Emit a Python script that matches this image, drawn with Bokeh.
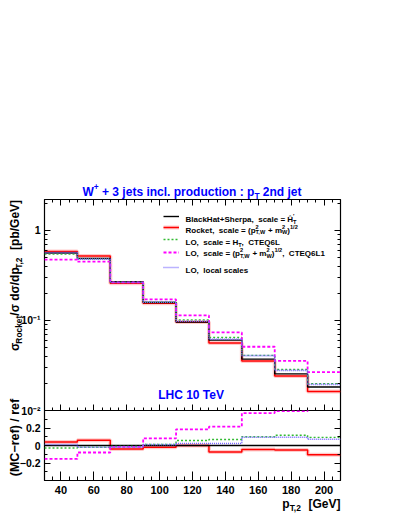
import math
import numpy as np
from bokeh.plotting import figure
from bokeh.models import (Range1d, FixedTicker, LinearAxis, LogAxis, Label,
                          Legend, LegendItem, CustomJSTickFormatter)
from bokeh.layouts import column
from bokeh.embed import file_html
from bokeh.resources import INLINE

# ---------------- data ----------------
bin_edges = [30, 50, 70, 90, 110, 130, 150, 170, 190, 210]
blackhat_sherpa = [0.560, 0.489, 0.269, 0.158, 0.0958, 0.0605, 0.0372, 0.0255, 0.0182]
rocket = [0.582, 0.518, 0.258, 0.155, 0.0958, 0.0560, 0.0355, 0.0242, 0.0163]
lo_ht_cteq6l = [0.544, 0.479, 0.266, 0.160, 0.1013, 0.0646, 0.0409, 0.0285, 0.0199]
lo_ptw_cteq6l1 = [0.474, 0.450, 0.265, 0.171, 0.1135, 0.0735, 0.0510, 0.0355, 0.0267]
lo_local = [0.566, 0.479, 0.264, 0.1595, 0.0980, 0.0619, 0.0407, 0.0279, 0.0195]

x_major_ticks = [40, 60, 80, 100, 120, 140, 160, 180, 200]
x_minor_ticks = list(range(30, 215, 5))
main_y_ticks = [0.01, 0.1, 1.0]
main_y_tick_labels = ["10\u207b\u00b2", "10\u207b\u00b9", "1"]
main_y_minor = [m * 10.0 ** e for e in (-2, -1, 0) for m in range(2, 10)]
ratio_y_ticks = [-0.2, 0.0, 0.2]
ratio_y_minor = [-0.4, -0.3, -0.1, 0.1, 0.3, 0.4]

# ---------------- layout (page pixels; the Bokeh page has no body margin) ----------------
FONT = "Liberation Sans"
W = 391
BL, BR = 44, 51
MAIN_TOP, MAIN_FH, MAIN_BOT = 199, 211, 12
RATIO_FH, RATIO_BOT = 70, 33
X0, X1 = 30, 210
MY0, MY1 = 0.01, 2.2
RY0, RY1 = -0.4, 0.4

FL = BL
MFB = MAIN_TOP + MAIN_FH
MAIN_H = MAIN_TOP + MAIN_FH + MAIN_BOT
RATIO_H = RATIO_FH + RATIO_BOT
TOTAL_H = MAIN_H - MAIN_BOT + RATIO_H

AW = {' ': 278, '\u00a0': 278, '!': 333, '(': 333, ')': 333, '+': 584, ',': 278, '-': 333,
      '.': 278, '/': 278, ':': 333, '=': 584, '[': 333, ']': 333, '\u2212': 584,
      '\u2032': 238, '\u03c3': 620, '\u0124': 722}
for c in '0123456789':
    AW[c] = 556
AW.update(dict(zip('ABCDEFGHIJKLMNOPQRSTUVWXYZ',
                   [722, 722, 722, 722, 667, 611, 778, 722, 278, 556, 722, 611, 833, 722, 778,
                    667, 778, 722, 667, 611, 722, 667, 944, 667, 667, 611])))
AW.update(dict(zip('abcdefghijklmnopqrstuvwxyz',
                   [556, 611, 556, 611, 556, 333, 611, 611, 278, 278, 556, 278, 889, 611, 611,
                    611, 611, 389, 556, 333, 611, 556, 778, 556, 556, 500])))


def tw(s, size):
    return sum(AW.get(ch, 600) for ch in s) * size / 1000.0


def pw(kind, t, size):
    if kind == 'n':
        return tw(t, size)
    if kind in ('sub', 'sup'):
        return tw(t, size * 0.7)
    return max(tw(t[0], size * 0.7), tw(t[1], size * 0.7))


def compose(fig, along, base, size, pieces, color, rotated=False, anchor='left'):
    """Place a run of text pieces (normal / sub / sup) on the page-pixel overlay."""
    total = sum(pw(k, t, size) for k, t in pieces)
    d = -1 if rotated else 1
    if anchor == 'center':
        along -= d * total / 2
    elif anchor == 'right':
        along -= d * total
    for kind, t in pieces:
        items = []
        if kind == 'n':
            items.append((t, base, size))
        elif kind == 'sub':
            items.append((t, base + 0.3 * size, 0.7 * size))
        elif kind == 'sup':
            items.append((t, base - 0.42 * size, 0.7 * size))
        else:
            items.append((t[0], base - 0.42 * size, 0.7 * size))
            items.append((t[1], base + 0.3 * size, 0.7 * size))
        for txt, perp, sz in items:
            px, py = (perp, along) if rotated else (along, perp)
            fig.add_layout(Label(x=px, y=py, text=txt.replace(' ', '\u00a0'),
                                 angle=(math.pi / 2 if rotated else 0),
                                 text_align='left', text_baseline='alphabetic',
                                 text_font=FONT, text_font_style='bold',
                                 text_font_size=f"{sz:.2f}px", text_color=color))
        along += d * pw(kind, t, size)


blank = CustomJSTickFormatter(code="return '';")
main_fmt = CustomJSTickFormatter(
    args=dict(vals=main_y_ticks, labs=main_y_tick_labels),
    code="for (let i = 0; i < vals.length; i++) { if (Math.abs(tick - vals[i]) < 1e-6 * vals[i]) return labs[i]; } return '';")


def style_axis(ax, major, minor, font_size=None, standoff=3):
    ax.major_tick_in = major
    ax.major_tick_out = 0
    ax.minor_tick_in = minor
    ax.minor_tick_out = 0
    ax.axis_line_color = None
    ax.major_tick_line_color = "black"
    ax.minor_tick_line_color = "black"
    ax.major_label_standoff = standoff
    ax.major_label_text_font = FONT
    ax.major_label_text_font_style = "bold"
    ax.major_label_text_color = "black"
    if font_size:
        ax.major_label_text_font_size = font_size


# ---------------- main panel ----------------
p = figure(width=W, height=MAIN_H,
           x_range=Range1d(X0, X1), y_range=Range1d(MY0, MY1), y_axis_type="log",
           output_backend="svg", toolbar_location=None,
           min_border_left=BL, min_border_right=BR, min_border_top=MAIN_TOP,
           min_border_bottom=MAIN_BOT, outline_line_color="black", outline_line_width=1.2,
           background_fill_color="white", border_fill_color="white")
p.grid.visible = False

xt = FixedTicker(ticks=x_major_ticks, minor_ticks=x_minor_ticks)
myt = FixedTicker(ticks=main_y_ticks, minor_ticks=main_y_minor)
p.xaxis.ticker = xt
p.xaxis.formatter = blank
style_axis(p.xaxis[0], 6, 3, standoff=0)
p.yaxis.ticker = myt
p.yaxis.formatter = main_fmt
style_axis(p.yaxis[0], 6, 3, "10.5px", standoff=4)
top_ax = LinearAxis(ticker=xt, formatter=blank)
style_axis(top_ax, 6, 3, standoff=0)
p.add_layout(top_ax, "above")
right_ax = LogAxis(ticker=myt, formatter=blank)
style_axis(right_ax, 6, 3, standoff=0)
p.add_layout(right_ax, "right")


def hist(fig, vals, **kw):
    return fig.step(bin_edges, list(vals) + [vals[-1]], mode="after", **kw)


series = [
    ("rocket", rocket, dict(line_color="#ff0000", line_width=1.5)),
    ("bh", blackhat_sherpa, dict(line_color="black", line_width=1.4)),
    ("ht", lo_ht_cteq6l, dict(line_color="#33bb33", line_width=1.4, line_dash="2 2")),
    ("ptw", lo_ptw_cteq6l1, dict(line_color="#ff00ff", line_width=1.8, line_dash="3 2")),
    ("local", lo_local, dict(line_color="#7766ff", line_width=1.6, line_dash="1 1")),
]

rend = {}
rend["rocket_band"] = hist(p, rocket, line_color="#ff0000", line_alpha=0.2, line_width=4)
for name, vals, kw in series:
    rend[name] = hist(p, vals, **kw)

# legend samples (one legend per entry so the rows sit where they are in the reference)
leg_rows = [
    ([rend["bh"]], 216.0),
    ([rend["rocket_band"], rend["rocket"]], 227.3),
    ([rend["ht"]], 239.3),
    ([rend["ptw"]], 251.5),
    ([rend["local"]], 266.7),
]
GH = 10
for rs, yline in leg_rows:
    leg = Legend(items=[LegendItem(label=" ", renderers=rs)],
                 location=(163 - FL, MFB - (yline + GH / 2)),
                 glyph_width=16, glyph_height=GH, label_height=GH, label_width=1,
                 padding=0, margin=0, spacing=0, label_standoff=0,
                 border_line_color=None, background_fill_alpha=0,
                 label_text_font_size="1px")
    p.add_layout(leg, "center")

# ---------------- ratio panel ----------------
r = figure(width=W, height=RATIO_H,
           x_range=p.x_range, y_range=Range1d(RY0, RY1),
           output_backend="svg", toolbar_location=None,
           min_border_left=BL, min_border_right=BR, min_border_top=0,
           min_border_bottom=RATIO_BOT, outline_line_color="black", outline_line_width=1.2,
           background_fill_color="white", border_fill_alpha=0,
           styles={"margin-top": f"-{MAIN_BOT}px"})
r.grid.visible = False
r.xaxis.ticker = xt
style_axis(r.xaxis[0], 9, 4, "11px", standoff=5)
ryt = FixedTicker(ticks=ratio_y_ticks, minor_ticks=ratio_y_minor)
r.yaxis.ticker = ryt
style_axis(r.yaxis[0], 6, 3, "10.5px", standoff=4)
rr_ax = LinearAxis(ticker=ryt, formatter=blank)
style_axis(rr_ax, 6, 3, standoff=0)
r.add_layout(rr_ax, "right")

ref = np.array(blackhat_sherpa)
rat = {name: (np.array(v) / ref - 1.0) for name, v, _ in series}
hist(r, rat["rocket"], line_color="#ff0000", line_alpha=0.2, line_width=4)
for name, vals, kw in series:
    hist(r, rat[name], **kw)

# ---------------- text overlay (page-pixel coordinates) ----------------
t = figure(width=W, height=TOTAL_H, x_range=Range1d(0, W), y_range=Range1d(TOTAL_H, 0),
           x_axis_type=None, y_axis_type=None, output_backend="svg", toolbar_location=None,
           min_border=0, min_border_left=0, min_border_right=0, min_border_top=0,
           min_border_bottom=0, frame_align=False,
           outline_line_color=None, background_fill_alpha=0,
           border_fill_alpha=0, styles={"margin-top": f"-{TOTAL_H}px"})
t.grid.visible = False

LS = 8.0
legend_text = [
    (219.0, [('n', "BlackHat+Sherpa,  scale = \u0124"), ('supsub', ("\u2032", "T"))]),
    (229.5, [('n', "Rocket,  scale = (p"), ('supsub', ("2", "T,W")), ('n', " + m"),
             ('supsub', ("2", "W")), ('n', ")"), ('sup', "1/2")]),
    (242.3, [('n', "LO,  scale = H"), ('sub', "T"), ('n', ",  CTEQ6L")]),
    (253.0, [('n', "LO,  scale = (p"), ('supsub', ("2", "T,W")), ('n', " + m"),
             ('supsub', ("2", "W")), ('n', ")"), ('sup', "1/2"), ('n', ",  CTEQ6L1")]),
    (269.5, [('n', "LO,  local scales")]),
]
for yb, pieces in legend_text:
    compose(t, 185.0, yb, LS, pieces, "black")

compose(t, 191.5, 191.5, 12.0,
        [('n', "W"), ('sup', "+"), ('n', " + 3 jets incl. production : p"), ('sub', "T"),
         ('n', " 2nd jet")], "#0000ff", anchor='center')
compose(t, 191.0, 394.0, 12.0, [('n', "LHC 10 TeV")], "#0000ff", anchor='center')
compose(t, 275.0, 14.5, 12.0,
        [('n', "\u03c3"), ('sub', "Rocket"), ('n', "/\u03c3 d\u03c3/dp"), ('sub', "T,2"),
         ('n', "  [pb/GeV]")], "black", rotated=True, anchor='center')
compose(t, 437.0, 14.5, 12.5, [('n', "(MC\u2212ref) / ref")], "black",
        rotated=True, anchor='center')
compose(t, 340.0, 503.5, 12.0,
        [('n', "p"), ('sub', "T,2"), ('n', "  [GeV]")], "black", anchor='right')

layout = column(p, r, t, spacing=0)
open("out.html", "w").write(file_html(layout, INLINE))
